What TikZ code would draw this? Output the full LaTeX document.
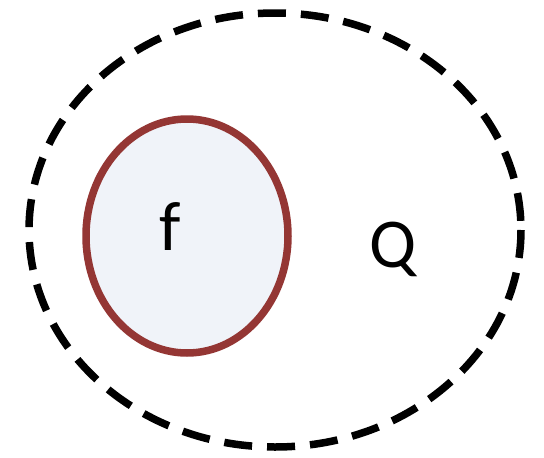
\documentclass[tikz,border=0pt]{standalone}
\usepackage{fontspec}
\setmainfont{Carlito}
\definecolor{ringred}{HTML}{943634}
\definecolor{lightfill}{HTML}{F0F3F9}
\tikzset{
  outerset/.style={draw=black,line width=7.5pt,dash pattern=on 28pt off 15pt},
  innerset/.style={draw=ringred,line width=7.5pt,fill=lightfill},
  lbl/.style={font=\fontsize{70}{84}\selectfont,inner sep=0pt}
}
\begin{document}
\begin{tikzpicture}[x=1pt,y=-1pt]
\useasboundingbox (0,0) rectangle (544,458);
\draw[outerset] (275,230) ellipse [x radius=246, y radius=217];
\draw[innerset] (187,236) ellipse [x radius=101, y radius=117];
\node[lbl,anchor=base] (f) at (170,250) {f};
\node[lbl,anchor=base] (q) at (393,267) {Q};
\end{tikzpicture}
\end{document}
